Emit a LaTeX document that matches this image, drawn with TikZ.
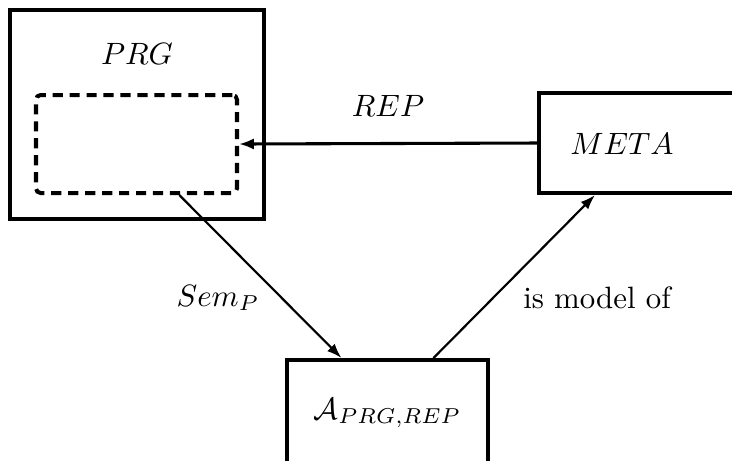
\documentclass[tikz,border=0pt]{standalone}
\usepackage{amsmath,amssymb}
\usepackage{tikz}
\usetikzlibrary{arrows.meta,positioning,calc}

\begin{document}
\begin{tikzpicture}[x=0.0114cm, y=-0.0114cm,
  box/.style={draw, line width=1.3pt, inner sep=0pt},
  slotbox/.style={draw, dashed, dash pattern=on 3.3pt off 2.2pt, line width=1.3pt, rounded corners=1.5pt, inner sep=0pt},
  arr/.style={-{Latex[length=4.8pt, width=3.4pt]}, line width=0.7pt},
  thickarr/.style={-{Latex[length=4.8pt, width=3.6pt]}, line width=1pt}]
\useasboundingbox (0,0) rectangle (732,460);
\node[box, minimum width=2.89cm, minimum height=2.388cm] (prg) at (137.25,114.25) {};
\node (prgname) at (137,54) {$PRG$};
\node[slotbox, minimum width=2.291cm, minimum height=1.117cm] (slot) at (136.5,144) {};
\node[box, minimum width=2.519cm, minimum height=1.14cm] (meta) at (649.5,143) {};
\node (metaname) at (622,144) {$META$};
\node[box, minimum width=2.291cm, minimum height=1.208cm] (alg) at (387.5,413) {$\mathcal{A}_{PRG,REP}$};
\draw[thickarr] (meta.west) -- node[above=5pt] {$REP$} (slot.east);
\draw[arr] (slot.-50) -- ($(alg.north)+(-46,0)$);
\draw[arr] ($(alg.north)+(46,0)$) -- ($(meta.south west)+(58,0)$);
\node (sem) at (218,298) {$Sem_P$};
\node (model) at (597,298) {is model of};
\end{tikzpicture}
\end{document}
